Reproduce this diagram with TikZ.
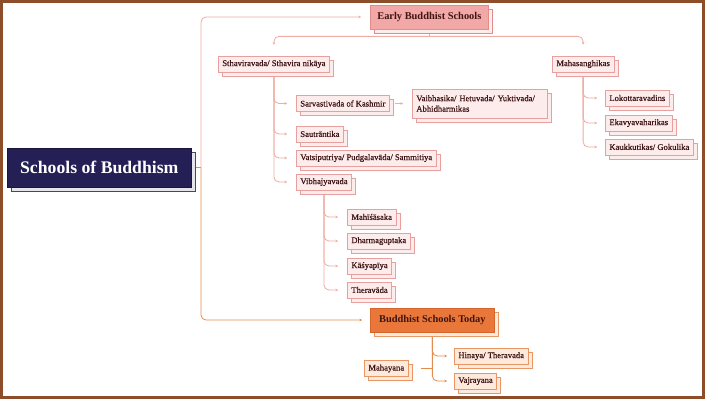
\documentclass[tikz,border=0pt]{standalone}
\usepackage{fontspec}
\setmainfont{Liberation Serif}
\newfontfamily\labfont{Liberation Serif}[FakeBold=0.5]
\usetikzlibrary{shadows,arrows.meta,backgrounds}
\definecolor{navy}{RGB}{36,31,84}
\definecolor{framebrown}{RGB}{140,78,40}
\definecolor{earlyfill}{RGB}{242,168,166}
\definecolor{earlydraw}{RGB}{226,140,138}
\definecolor{pinkfill}{RGB}{253,236,236}
\definecolor{pinkdraw}{RGB}{232,160,158}
\definecolor{pinkline}{RGB}{238,172,162}
\definecolor{todayfill}{RGB}{233,119,58}
\definecolor{todaydraw}{RGB}{214,100,44}
\definecolor{orfill}{RGB}{253,234,220}
\definecolor{ordraw}{RGB}{232,150,100}
\definecolor{orline}{RGB}{226,140,80}
\definecolor{txt}{RGB}{62,20,20}
\tikzset{
  leaf/.style={draw=pinkdraw, fill=pinkfill, line width=0.7pt, anchor=west,
    inner xsep=4pt, inner ysep=0pt, minimum height=16pt, text=txt,
    font=\labfont\fontsize{8.6}{10.5}\selectfont,
    copy shadow={shadow xshift=4pt, shadow yshift=-4pt}},
  oleaf/.style={leaf, draw=ordraw, fill=orfill},
  head/.style={anchor=west, inner sep=0pt, minimum height=24pt, text=txt,
    font=\fontsize{10.4}{12}\selectfont\bfseries, line width=0.7pt},
  pconn/.style={draw=pinkline, line width=0.8pt, rounded corners=5pt},
  oconn/.style={draw=orline, line width=0.8pt, rounded corners=5pt},
  tip/.style={-{Stealth[length=2.5pt,width=2.5pt]}},
}
\begin{document}
\begin{tikzpicture}[x=1pt,y=-1pt]
\useasboundingbox (0,0) rectangle (705,399);
% main node
\node[anchor=west, fill=navy, draw=navy!70!black, line width=0.6pt,
  minimum width=184pt, minimum height=39pt, inner sep=0pt, text=white,
  font=\fontsize{17.7}{20}\selectfont\bfseries,
  copy shadow={shadow xshift=4pt, shadow yshift=-4pt, fill=white!88!navy, draw=navy!60!gray}]
  (main) at (7,167.5) {Schools of Buddhism};
% level 1
\node[head, fill=earlyfill, draw=earlydraw, minimum width=118pt,
  copy shadow={shadow xshift=4pt, shadow yshift=-4pt, fill=pinkfill, draw=earlydraw}]
  (early) at (370,17) {Early Buddhist Schools};
\node[head, fill=todayfill, draw=todaydraw, minimum width=124pt,
  copy shadow={shadow xshift=4pt, shadow yshift=-4pt, fill=orfill, draw=ordraw}]
  (today) at (370,320) {Buddhist Schools Today};
% early subtree
\node[leaf] (sthav) at (218,64) {Sthaviravada/ Sthavira nikāya};
\node[leaf] (mahas) at (552,64) {Mahasanghikas};
\node[leaf] (sarv) at (296,103.5) {Sarvastivada of Kashmir};
\node[leaf, align=left, minimum height=29pt, text width=127pt] (vaib) at (412,103.5) {Vaibhasika/ Hetuvada/ Yuktivada/\\Abhidharmikas};
\node[leaf] (saut) at (296,134) {Sautrāntika};
\node[leaf] (vats) at (296,158) {Vatsiputriya/ Pudgalavāda/ Sammitiya};
\node[leaf] (vibh) at (296,182) {Vibhajyavada};
\node[leaf] (mahi) at (347,217) {Mahīśāsaka};
\node[leaf] (dharma) at (347,241) {Dharmaguptaka};
\node[leaf] (kasy) at (347,266) {Kāśyapīya};
\node[leaf] (thera) at (347,290) {Theravāda};
\node[leaf] (lok) at (605,98) {Lokottaravadins};
\node[leaf] (eka) at (605,123) {Ekavyavaharikas};
\node[leaf] (kauk) at (605,147) {Kaukkutikas/ Gokulika};
% today subtree
\node[oleaf] (mahay) at (364,368.5) {Mahayana};
\node[oleaf] (hinaya) at (454,356) {Hinaya/ Theravada};
\node[oleaf] (vajra) at (454,381) {Vajrayana};
\coordinate (trunk) at (201,167.5);
\begin{scope}[on background layer]
  \fill[white] (0,0) rectangle (705,399);
  \draw[oconn] (main.east) -- (trunk);
  \draw[pconn, tip, shorten >=9pt] (trunk) |- (early.west);
  \draw[oconn, tip, shorten >=8pt] (trunk) |- (today.west);
  % early -> two branches
  \draw[pconn] (early.south) -- ++(0,7) coordinate (ebar);
  \draw[pconn, tip, shorten >=11pt] (ebar) -| (sthav.north);
  \draw[pconn, tip, shorten >=11pt] (ebar) -| (mahas.north);
  \foreach \c in {sarv,saut,vats,vibh}
    \draw[pconn, tip, shorten >=9pt] (sthav.south) |- (\c.west);
  \draw[pconn, tip, shorten <=5pt, shorten >=9pt] (sarv.east) -- (vaib.west);
  \foreach \c in {mahi,dharma,kasy,thera}
    \draw[pconn, tip, shorten >=9pt] (vibh.south) |- (\c.west);
  \foreach \c in {lok,eka,kauk}
    \draw[pconn, tip, shorten >=8pt] (mahas.south) |- (\c.west);
  % today
  \foreach \c in {hinaya,vajra}
    \draw[oconn, tip, shorten >=7pt] (today.south) |- (\c.west);
  \draw[oconn, shorten >=12pt] (today.south |- mahay.east) -- (mahay.east);
\end{scope}
\draw[framebrown, line width=3pt] (1.5,1.5) rectangle (703.5,397.5);
\end{tikzpicture}
\end{document}
